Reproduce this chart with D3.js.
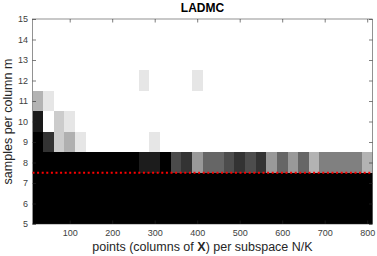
<!DOCTYPE html>
<html>
<head>
<meta charset="utf-8">
<script src="https://cdn.jsdelivr.net/npm/d3@7"></script>
<style>
  body { margin: 0; background: #fff; }
  svg { display: block; font-family: "Liberation Sans", Arial, Helvetica, sans-serif; }
</style>
</head>
<body>
<div id="chart"></div>
<script>
// points per subspace (column centres) and samples per column (row centres)
const pointsN = [25, 50, 75, 100, 125, 150, 175, 200, 225, 250, 275, 300, 325, 350, 375, 400,
  425, 450, 475, 500, 525, 550, 575, 600, 625, 650, 675, 700, 725, 750, 775, 800];
const samplesM = [5, 6, 7, 8, 9, 10, 11, 12, 13, 14, 15];

// gray level of each cell (0 = black, 1 = white), one row per m
const row5 = [0,0,0,0,0,0,0,0,0,0,0,0,0,0,0,0,0,0,0,0,0,0,0,0,0,0,0,0,0,0,0,0];
const row6 = [0,0,0,0,0,0,0,0,0,0,0,0,0,0,0,0,0,0,0,0,0,0,0,0,0,0,0,0,0,0,0,0];
const row7 = [0,0,0,0,0,0,0,0,0,0,0,0,0,0,0,0,0,0,0,0,0,0,0,0,0,0,0,0,0,0,0,0];
const row8 = [0,0,0,0,0,0,0,0,0,0,0.11,0.11,0,0.29,0.2,0.6,0.4,0.4,0.3,0.2,0.3,0.2,0.6,0.4,0.6,0.4,0.7,0.5,0.5,0.5,0.5,0.7];
const row9 = [0,0.2,0.8,0.69,0.9,1,1,1,1,1,1,0.9,1,1,1,1,1,1,1,1,1,1,1,1,1,1,1,1,1,1,1,1];
const row10 = [0.1,1,0.8,0.9,1,1,1,1,1,1,1,1,1,1,1,1,1,1,1,1,1,1,1,1,1,1,1,1,1,1,1,1];
const row11 = [0.7,0.9,1,1,1,1,1,1,1,1,1,1,1,1,1,1,1,1,1,1,1,1,1,1,1,1,1,1,1,1,1,1];
const row12 = [1,1,1,1,1,1,1,1,1,1,0.9,1,1,1,1,0.9,1,1,1,1,1,1,1,1,1,1,1,1,1,1,1,1];
const row13 = [1,1,1,1,1,1,1,1,1,1,1,1,1,1,1,1,1,1,1,1,1,1,1,1,1,1,1,1,1,1,1,1];
const row14 = [1,1,1,1,1,1,1,1,1,1,1,1,1,1,1,1,1,1,1,1,1,1,1,1,1,1,1,1,1,1,1,1];
const row15 = [1,1,1,1,1,1,1,1,1,1,1,1,1,1,1,1,1,1,1,1,1,1,1,1,1,1,1,1,1,1,1,1];
const grayRows = [row5, row6, row7, row8, row9, row10, row11, row12, row13, row14, row15];

const xTicks = [100, 200, 300, 400, 500, 600, 700, 800];
const yTicks = [5, 6, 7, 8, 9, 10, 11, 12, 13, 14, 15];
const boundM = 7.5;

const width = 377, height = 256;
const margin = { top: 19, right: 4.5, bottom: 32, left: 32.5 };
const innerW = width - margin.left - margin.right;
const innerH = height - margin.top - margin.bottom;
const step = 25;

const svg = d3.select("#chart").append("svg")
  .attr("width", width)
  .attr("height", height);

const x = d3.scaleLinear()
  .domain([pointsN[0] - step / 2, pointsN[pointsN.length - 1] + step / 2])
  .range([0, innerW]);
const y = d3.scaleLinear().domain([5, 15]).range([innerH, 0]);
const gray = d3.scaleLinear().domain([0, 1]).range(["#000", "#fff"]);

svg.append("defs").append("clipPath").attr("id", "plotclip")
  .append("rect").attr("width", innerW).attr("height", innerH);

const g = svg.append("g").attr("transform", `translate(${margin.left},${margin.top})`);

const cells = [];
samplesM.forEach((m, i) => pointsN.forEach((n, j) => cells.push({ n, m, v: grayRows[i][j] })));

g.append("g")
  .attr("clip-path", "url(#plotclip)")
  .selectAll("rect")
  .data(cells)
  .enter().append("rect")
    .attr("x", d => x(d.n - step / 2))
    .attr("y", d => y(d.m + 0.5))
    .attr("width", d => x(d.n + step / 2) - x(d.n - step / 2))
    .attr("height", d => y(d.m - 0.5) - y(d.m + 0.5))
    .attr("fill", d => gray(d.v))
    .attr("shape-rendering", "crispEdges");

// red dotted boundary
g.append("line")
  .attr("x1", 0).attr("x2", innerW)
  .attr("y1", y(boundM)).attr("y2", y(boundM))
  .attr("stroke", "#ff0000")
  .attr("stroke-width", 2)
  .attr("stroke-dasharray", "2,2.6");

// axes (ticks inward, box on)
const tickLen = 3.5;
const axisColor = "#262626";

const styleAxis = sel => {
  sel.select(".domain").remove();
  sel.selectAll(".tick line").attr("stroke", axisColor).attr("stroke-width", 0.6);
  sel.selectAll(".tick text").attr("fill", "#404040").style("font-size", "9px");
};

g.append("g")
  .attr("transform", `translate(0,${innerH})`)
  .call(d3.axisBottom(x).tickValues(xTicks).tickSizeInner(-tickLen).tickSizeOuter(0).tickPadding(6))
  .call(styleAxis);
g.append("g")
  .call(d3.axisTop(x).tickValues(xTicks).tickSizeInner(-tickLen).tickSizeOuter(0).tickFormat(""))
  .call(styleAxis);
g.append("g")
  .call(d3.axisLeft(y).tickValues(yTicks).tickSizeInner(-tickLen).tickSizeOuter(0).tickPadding(4.5))
  .call(styleAxis);
g.append("g")
  .attr("transform", `translate(${innerW},0)`)
  .call(d3.axisRight(y).tickValues(yTicks).tickSizeInner(-tickLen).tickSizeOuter(0).tickFormat(""))
  .call(styleAxis);

g.append("rect")
  .attr("width", innerW).attr("height", innerH)
  .attr("fill", "none")
  .attr("stroke", axisColor)
  .attr("stroke-width", 0.5);

// title and labels
svg.append("text")
  .attr("x", margin.left + innerW / 2).attr("y", 12)
  .attr("text-anchor", "middle")
  .style("font-size", "12px").style("font-weight", "bold")
  .attr("fill", "#000")
  .text("LADMC");

const xLabel = svg.append("text")
  .attr("x", margin.left + innerW / 2).attr("y", 251)
  .attr("text-anchor", "middle")
  .style("font-size", "12.5px")
  .attr("fill", "#262626");
xLabel.append("tspan").text("points (columns of ");
xLabel.append("tspan").style("font-weight", "bold").text("X");
xLabel.append("tspan").text(") per subspace N/K");

svg.append("text")
  .attr("transform", `translate(12,${margin.top + innerH / 2}) rotate(-90)`)
  .attr("text-anchor", "middle")
  .style("font-size", "12.5px")
  .attr("fill", "#262626")
  .text("samples per column m");
</script>
</body>
</html>
